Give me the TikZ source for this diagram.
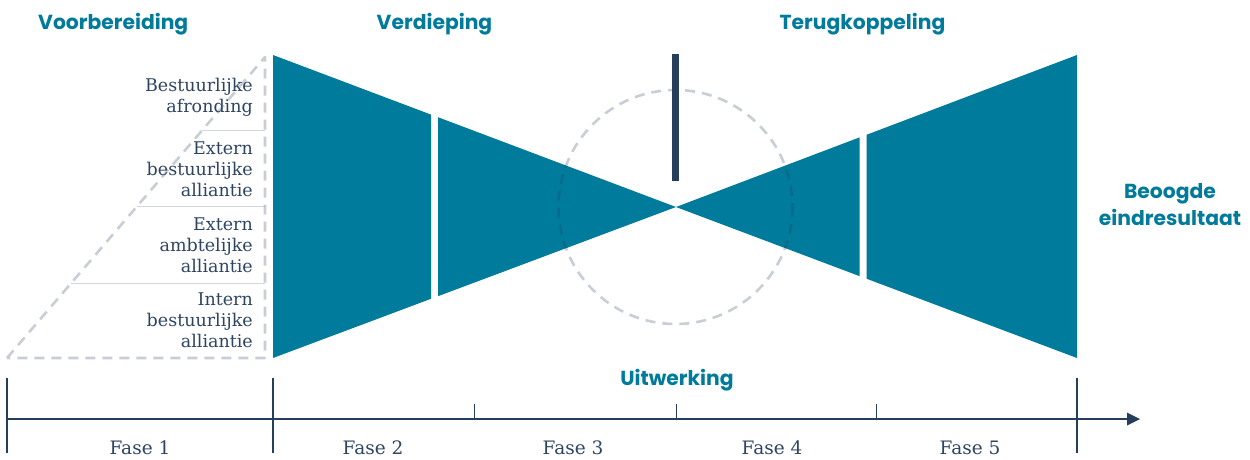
\documentclass[tikz,border=0pt]{standalone}
\usepackage{fontspec}
\newfontfamily\slabfont{DejaVu Serif}
\newfontfamily\headfont{Poppins}
\definecolor{teal}{RGB}{0,123,155}
\definecolor{navy}{RGB}{38,62,92}
\definecolor{txtnavy}{RGB}{46,69,98}
\definecolor{sepgray}{RGB}{210,213,222}
\begin{document}
\begin{tikzpicture}[x=1pt,y=-1pt,
  hdr/.style={inner sep=0pt, text=teal, font=\headfont\bfseries\fontsize{20.3}{27}\selectfont, align=center},
  lbl/.style={inner sep=0pt, text=txtnavy, font=\slabfont\fontsize{17.5}{21}\selectfont, align=right, anchor=east},
  faselbl/.style={inner sep=0pt, text=txtnavy, font=\slabfont\fontsize{18.5}{22}\selectfont, anchor=base},
  dashgray/.style={draw=navy, draw opacity=0.25, line width=2.6pt, dash pattern=on 10pt off 7pt},
  majortick/.style={draw=navy, line width=2.6pt},
  minortick/.style={draw=navy, line width=1pt}]
\useasboundingbox (0,0) rectangle (1250,459);
\fill[white] (0,0) rectangle (1250,459);

% bow-tie shapes
\fill[teal] (273,55) -- (431,114.6) -- (431,298.8) -- (273,358) -- cycle;
\fill[teal] (438,117.2) -- (676,207) -- (438,296.2) -- cycle;
\fill[teal] (676,207) -- (859.5,137.4) -- (859.5,276.1) -- cycle;
\fill[teal] (866.5,134.8) -- (1077,55) -- (1077,358) -- (866.5,278.7) -- cycle;

% dashed circle and bar
\draw[dashgray] (675.5,207) circle[radius=117];
\fill[navy] (672,54) rectangle (679,181);

% left dashed triangle with separators
\coordinate (tA) at (7,358);
\coordinate (tB) at (265,57);
\coordinate (tC) at (265,358);
\draw[sepgray, line width=1pt] (202.4,130) -- (265,130);
\draw[sepgray, line width=1pt] (136.7,206.7) -- (265,206.7);
\draw[sepgray, line width=1pt] (71,283.3) -- (265,283.3);
\draw[dashgray, line join=round] (tA) -- (tB) -- (tC) -- cycle;

\node[lbl] (l1) at (253,97) {Bestuurlijke\\afronding};
\node[lbl] (l2) at (253,169.5) {Extern\\bestuurlijke\\alliantie};
\node[lbl] (l3) at (253,245.5) {Extern\\ambtelijke\\alliantie};
\node[lbl] (l4) at (253,320.5) {Intern\\bestuurlijke\\alliantie};

% headers
\node[hdr, anchor=base west] (h1) at (38,29.5) {Voorbereiding};
\node[hdr, anchor=base] (h2) at (434.5,29.5) {Verdieping};
\node[hdr, anchor=base] (h3) at (862.5,29.5) {Terugkoppeling};
\node[hdr, anchor=base] (h4) at (677,385) {Uitwerking};
\node[hdr, anchor=base] (h5) at (1170,198) {Beoogde};
\node[hdr, anchor=base] (h6) at (1170,225) {eindresultaat};

% axis
\coordinate (ax0) at (7,419);
\coordinate (ax1) at (1129,419);
\draw[navy, line width=2pt] (ax0) -- (ax1);
\fill[navy] (1127,412.5) -- (1140,419) -- (1127,425.5) -- cycle;
\foreach \x in {7,273,1077} \draw[majortick] (\x,378) -- (\x,453);
\foreach \x in {474,676,876} \draw[minortick] (\x,404) -- (\x,419);

\node[faselbl] (f1) at (140,454) {Fase 1};
\node[faselbl] (f2) at (373,454) {Fase 2};
\node[faselbl] (f3) at (573,454) {Fase 3};
\node[faselbl] (f4) at (772,454) {Fase 4};
\node[faselbl] (f5) at (970,454) {Fase 5};
\end{tikzpicture}
\end{document}
